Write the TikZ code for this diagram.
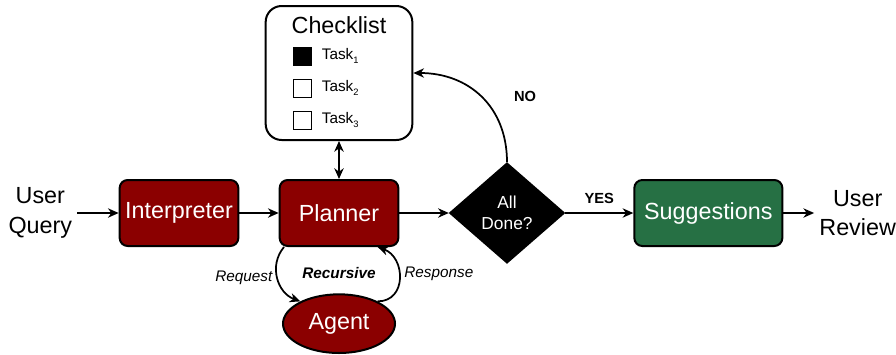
\documentclass[tikz,border=0pt]{standalone}
\usepackage{fontspec}
\setmainfont{Liberation Sans}
\usetikzlibrary{arrows.meta,positioning,shapes.geometric}
\definecolor{stagered}{RGB}{139,0,0}
\definecolor{stagegreen}{RGB}{38,112,68}

\begin{document}
\begin{tikzpicture}[x=0.75pt,y=0.75pt,->,>={Stealth[length=8pt,width=7pt,inset=2.5pt]},
  line width=1.3pt,node distance=120pt,on grid,
  stage/.style={draw,line width=1.5pt,rounded corners=6pt,fill=stagered,text=white,
    minimum width=89pt,minimum height=49.5pt,font=\fontsize{17.5}{20}\selectfont},
  io/.style={align=center,font=\fontsize{17.5}{22}\selectfont},
  tickbox/.style={draw,line width=0.75pt,minimum size=13.5pt,inner sep=0pt},
  tasklabel/.style={anchor=west,inner sep=0pt,font=\fontsize{11.5}{13}\selectfont},
  edgelabel/.style={font=\fontsize{11.5}{13}\selectfont}]
  \useasboundingbox (0,0) rectangle (896,-354);
  % main row
  \node[stage] (interp) at (179,-213) {Interpreter};
  \node[stage] (planner) [right=120pt of interp] {Planner};
  \node[diamond,draw,fill=black,text=white,minimum width=86pt,minimum height=75pt,
    inner sep=0pt,align=center,font=\fontsize{13}{16}\selectfont] (done) [right=126pt of planner] {All\\Done?};
  \node[stage,fill=stagegreen,minimum width=111pt] (sugg) [right=151pt of done] {Suggestions};
  \node[io] (query) [left=104pt of interp] {User\\Query};
  \node[io] (review) [right=112pt of sugg] {User\\Review};
  % checklist
  \node[draw,line width=1.5pt,rounded corners=12pt,fill=white,minimum width=110pt,
    minimum height=100.5pt] (checklist) [above=105pt of planner] {};
  \node[font=\fontsize{17.5}{20}\selectfont] (title) at (339,-25) {Checklist};
  \node[tickbox,fill=black] (box1) at (302,-56) {};
  \node[tickbox] (box2) at (302,-88) {};
  \node[tickbox] (box3) at (302,-120) {};
  \node[tasklabel] (task1) at (321,-56) {Task\raisebox{-0.6ex}{\scriptsize 1}};
  \node[tasklabel] (task2) at (321,-88) {Task\raisebox{-0.6ex}{\scriptsize 2}};
  \node[tasklabel] (task3) at (321,-120) {Task\raisebox{-0.6ex}{\scriptsize 3}};
  % agent loop
  \node[ellipse,draw,line width=1.5pt,fill=stagered,text=white,minimum width=84pt,
    minimum height=44pt,inner sep=0pt,font=\fontsize{17.5}{20}\selectfont] (agent) [below=83pt of planner] {Agent};
  \node[edgelabel,font=\fontsize{11.5}{13}\selectfont\bfseries\itshape] (recursive) [below=45pt of planner] {Recursive};

  \path
    (query) edge (interp)
    (interp) edge (planner)
    (planner) edge (done)
    (done) edge node[above,edgelabel,font=\fontsize{11}{13}\selectfont\bfseries,yshift=3pt] {YES} (sugg)
    (sugg) edge (review);
  \draw[<->] (checklist) -- (planner);
  \draw (done.north) to[out=90,in=0,looseness=1.1]
    node[pos=0.4,above right,xshift=14pt,font=\fontsize{11}{13}\selectfont\bfseries] {NO} (checklist.east);
  \draw ([xshift=4pt]planner.south west) to[out=-130,in=160,looseness=1.1]
    node[left,edgelabel,font=\fontsize{11.5}{13}\selectfont\itshape] {Request} (agent.150);
  \draw (agent.30) to[out=0,in=-20,looseness=1.4]
    node[right,edgelabel,font=\fontsize{11.5}{13}\selectfont\itshape,pos=0.55] {Response} ([xshift=29pt]planner.south);
\end{tikzpicture}
\end{document}
